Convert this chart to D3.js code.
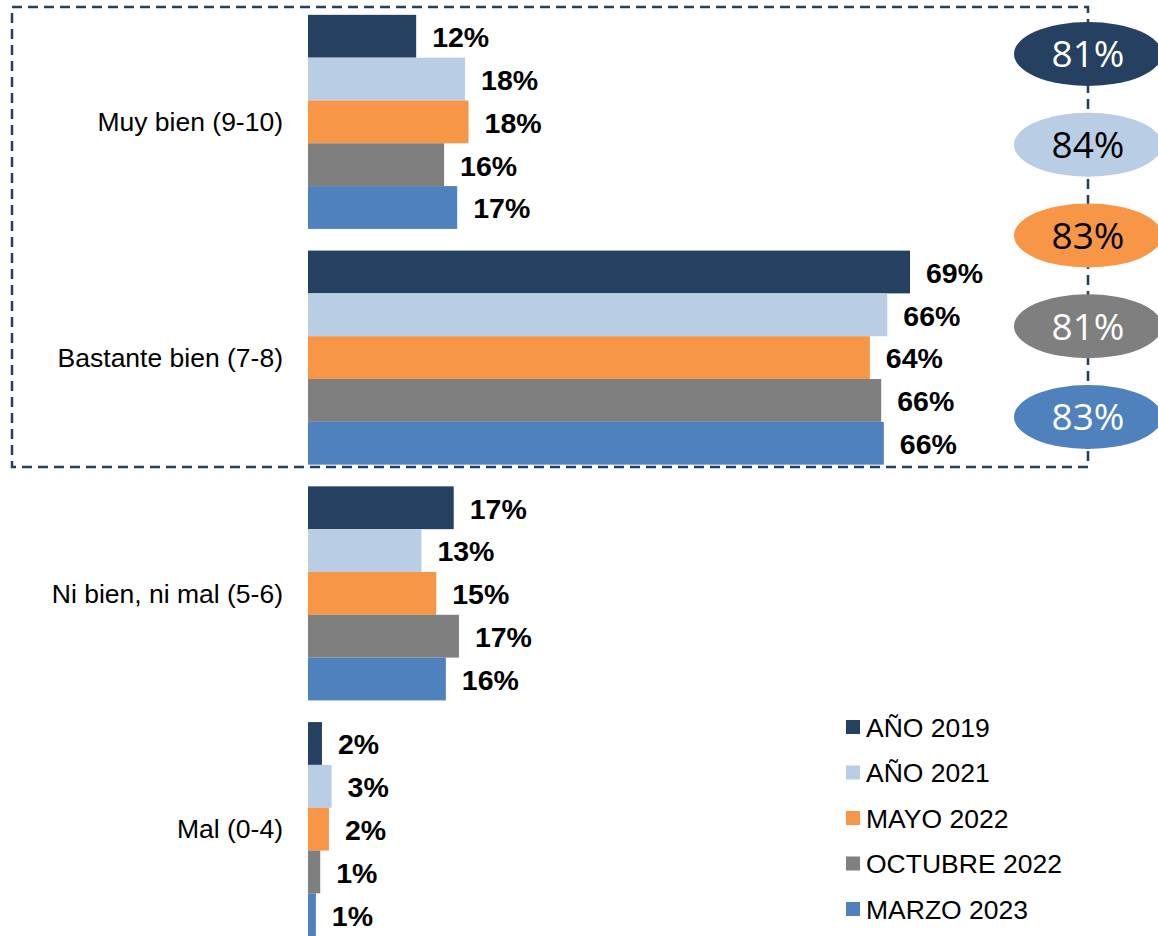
<!DOCTYPE html>
<html>
<head>
<meta charset="utf-8">
<script src="https://cdn.jsdelivr.net/npm/d3@7"></script>
<style>
  body { margin: 0; background: #fff; }
  svg { display: block; font-family: "Liberation Sans", Arial, sans-serif; }
</style>
</head>
<body>
<svg id="chart" width="1158" height="936"></svg>
<script>
var categories = ["Muy bien (9-10)", "Bastante bien (7-8)", "Ni bien, ni mal (5-6)", "Mal (0-4)"];
var series = ["AÑO 2019", "AÑO 2021", "MAYO 2022", "OCTUBRE 2022", "MARZO 2023"];

// values per series, in category order
var ano2019 = [12.4, 69.0, 16.7, 1.6];
var ano2021 = [18.0, 66.4, 13.0, 2.7];
var mayo2022 = [18.4, 64.4, 14.7, 2.4];
var octubre2022 = [15.6, 65.7, 17.3, 1.4];
var marzo2023 = [17.1, 66.0, 15.8, 0.9];

// "satisfied" totals shown in the ellipses
var totals = [81, 84, 83, 81, 83];

var colors = ["#264061", "#B9CDE5", "#F79646", "#7F7F7F", "#4F81BD"];
var totalTextColors = ["#fff", "#000", "#000", "#fff", "#fff"];

var values = [ano2019, ano2021, mayo2022, octubre2022, marzo2023];

var svg = d3.select("#chart");

var x = d3.scaleLinear()
  .domain([0, 69])
  .range([308, 910]);

var y0 = d3.scaleBand()
  .domain(categories)
  .range([4, 947])
  .paddingInner(0.092)
  .paddingOuter(0.046);

var y1 = d3.scaleBand()
  .domain(series)
  .range([0, y0.bandwidth()]);

// dashed box round the two top categories
svg.append("rect")
  .attr("x", 12)
  .attr("y", 7)
  .attr("width", 1076)
  .attr("height", 460)
  .attr("fill", "none")
  .attr("stroke", "#243F60")
  .attr("stroke-width", 2.5)
  .attr("stroke-dasharray", "10,6");

var groups = svg.selectAll(".cat")
  .data(categories)
  .enter().append("g")
  .attr("class", "cat")
  .attr("transform", function(d) { return "translate(0," + y0(d) + ")"; });

groups.append("text")
  .attr("x", 283)
  .attr("y", y0.bandwidth() / 2)
  .attr("dy", "0.35em")
  .attr("text-anchor", "end")
  .attr("font-size", 26.5)
  .attr("fill", "#000")
  .text(function(d) { return d; });

groups.each(function(c, ci) {
  var g = d3.select(this);
  var rows = series.map(function(s, si) { return {s: s, i: si, v: values[si][ci]}; });

  g.selectAll("rect")
    .data(rows)
    .enter().append("rect")
    .attr("x", x(0))
    .attr("y", function(d) { return y1(d.s); })
    .attr("width", function(d) { return x(d.v) - x(0); })
    .attr("height", y1.bandwidth())
    .attr("fill", function(d) { return colors[d.i]; });

  g.selectAll(".lbl")
    .data(rows)
    .enter().append("text")
    .attr("class", "lbl")
    .attr("x", function(d) { return x(d.v) + 16; })
    .attr("y", function(d) { return y1(d.s) + y1.bandwidth() / 2; })
    .attr("dy", "0.38em")
    .attr("font-size", 28.5)
    .attr("font-weight", "bold")
    .attr("fill", "#000")
    .text(function(d) { return d3.format(".0f")(d.v) + "%"; });
});

// totals ellipses on the right edge of the box
var yt = d3.scalePoint()
  .domain(series)
  .range([54, 417]);

var tot = svg.selectAll(".tot")
  .data(series)
  .enter().append("g")
  .attr("class", "tot")
  .attr("transform", function(d) { return "translate(1088," + yt(d) + ")"; });

tot.append("ellipse")
  .attr("rx", 74)
  .attr("ry", 32)
  .attr("fill", function(d, i) { return colors[i]; });

tot.append("text")
  .attr("dy", "0.36em")
  .attr("text-anchor", "middle")
  .attr("font-family", "'Open Sans', sans-serif")
  .attr("font-size", 37)
  .attr("fill", function(d, i) { return totalTextColors[i]; })
  .text(function(d, i) { return totals[i] + "%"; });

// legend
var legend = svg.selectAll(".leg")
  .data(series)
  .enter().append("g")
  .attr("class", "leg")
  .attr("transform", function(d, i) { return "translate(846," + (727 + i * 45.5) + ")"; });

legend.append("rect")
  .attr("y", -7)
  .attr("width", 14)
  .attr("height", 14)
  .attr("fill", function(d, i) { return colors[i]; });

legend.append("text")
  .attr("x", 20)
  .attr("dy", "0.36em")
  .attr("font-size", 26.5)
  .attr("fill", "#000")
  .text(function(d) { return d; });
</script>
</body>
</html>
